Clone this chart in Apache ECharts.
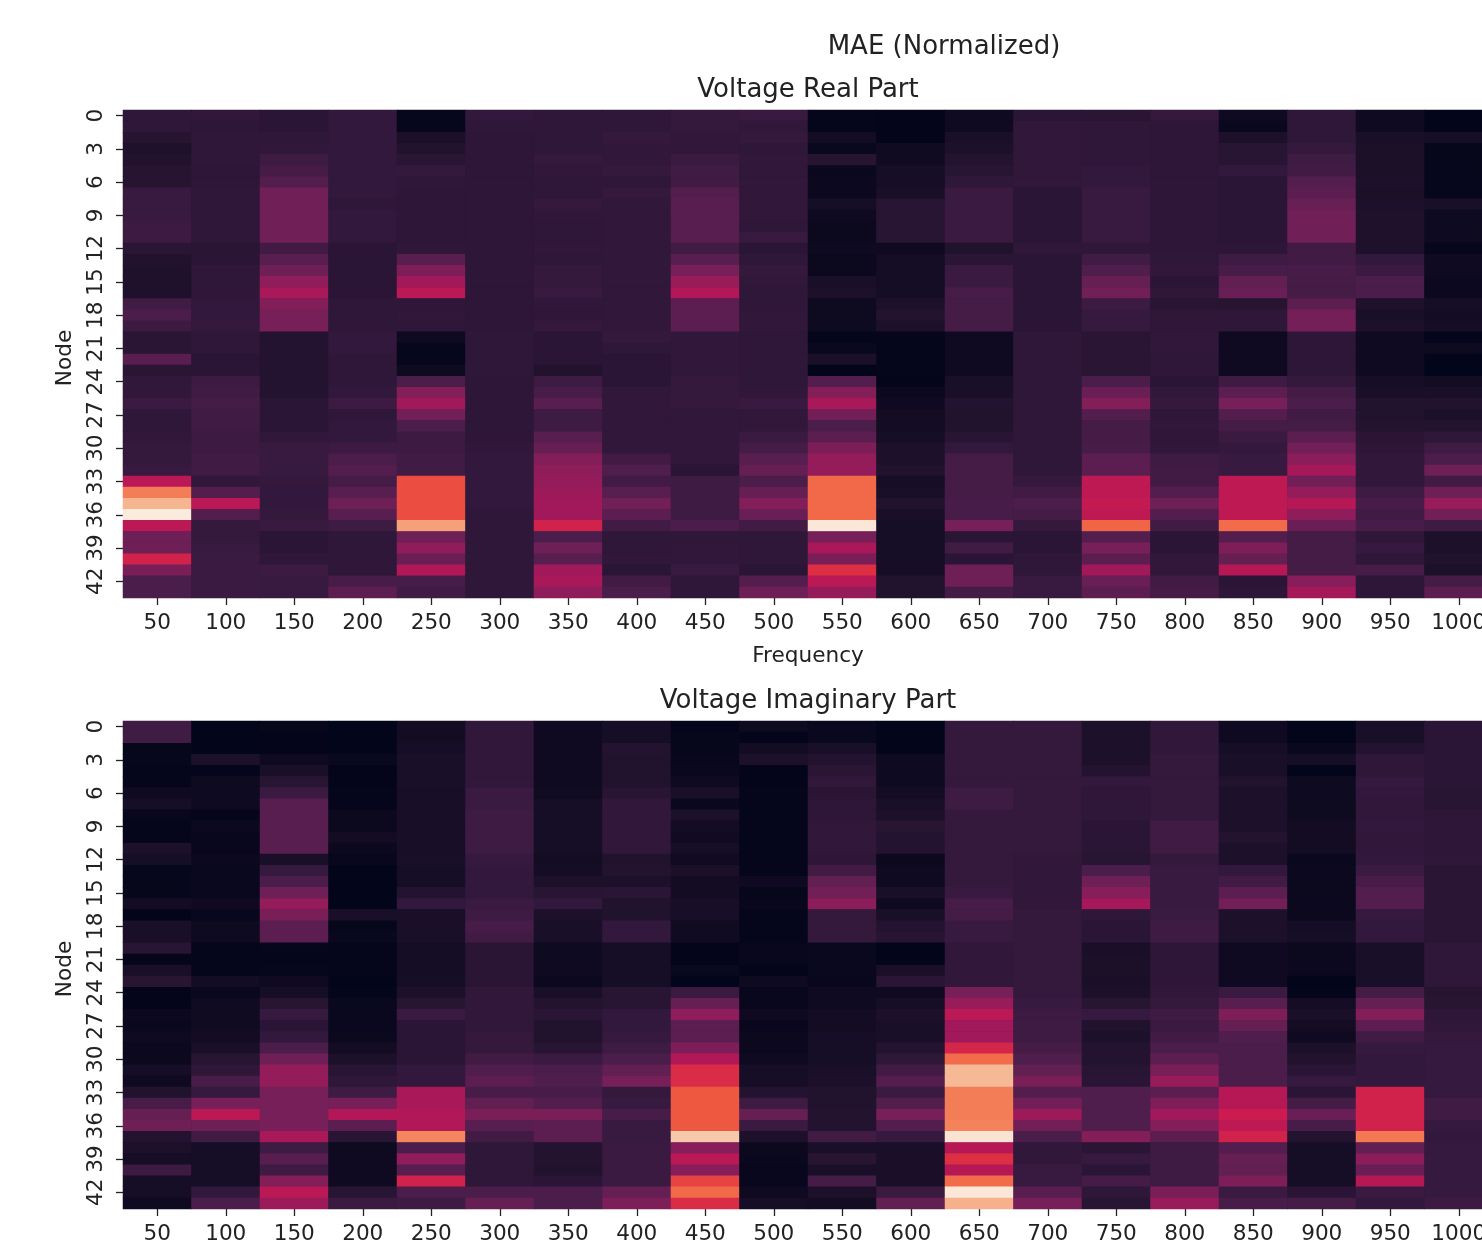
<!DOCTYPE html>
<html>
<head>
<meta charset="utf-8">
<style>html,body{margin:0;padding:0;background:#fff;overflow:hidden}#c{width:1482px;height:1248px}</style>
<script src="https://cdn.jsdelivr.net/npm/echarts@6/dist/echarts.min.js"></script>
</head>
<body>
<div id="c"></div>
<script>
const frequencies = [50,100,150,200,250,300,350,400,450,500,550,600,650,700,750,800,850,900,950,1000];
const nodes = Array.from({length:44},(_,i)=>String(i));

// Voltage Real Part: one array per frequency, 44 nodes each
const real50 = [.125,.125,.10,.08,.09,.10,.10,.15,.15,.15, .16,.16,.11,.09,.08,.08,.08,.17,.20,.16, .11,.11,.23,.11,.13,.13,.155,.125,.125,.13, .14,.14,.15,.46,.73,.86,1.0,.46,.28,.28,.52,.31,.20,.20];
const real100 = [.13,.12,.125,.125,.125,.12,.12,.125,.125,.125, .125,.125,.11,.115,.125,.125,.125,.135,.135,.14, .125,.125,.115,.115,.16,.17,.18,.17,.17,.16, .16,.17,.17,.13,.22,.46,.22,.14,.14,.15,.155,.155,.155,.155];
const real150 = [.115,.115,.125,.13,.165,.185,.22,.285,.285,.285, .285,.285,.175,.23,.28,.36,.42,.33,.30,.30, .095,.095,.095,.095,.095,.095,.115,.115,.115,.13, .15,.15,.15,.14,.135,.135,.14,.15,.115,.115,.125,.16,.15,.15];
const real200 = [.135,.135,.135,.135,.135,.135,.135,.135,.125,.135, .135,.135,.115,.115,.115,.115,.115,.125,.125,.125, .135,.135,.125,.125,.125,.135,.16,.125,.135,.135, .16,.20,.22,.18,.23,.28,.23,.165,.125,.125,.125,.125,.19,.24];
const real250 = [.01,.01,.07,.085,.11,.14,.125,.12,.12,.12, .12,.12,.125,.23,.32,.40,.46,.125,.13,.125, .03,.01,.01,.03,.20,.33,.40,.29,.20,.16, .16,.17,.17,.62,.62,.62,.62,.81,.28,.36,.27,.44,.19,.17];
const real300 = [.135,.125,.12,.12,.12,.12,.12,.12,.12,.12, .12,.12,.12,.12,.12,.12,.12,.12,.12,.12, .125,.125,.125,.125,.12,.12,.12,.12,.12,.12, .13,.135,.135,.135,.135,.135,.125,.125,.125,.125,.125,.125,.125,.125];
const real350 = [.125,.125,.125,.125,.14,.13,.125,.125,.14,.13, .125,.125,.13,.125,.14,.14,.15,.13,.125,.14, .115,.115,.115,.09,.165,.19,.23,.165,.165,.23, .26,.33,.36,.37,.39,.40,.40,.52,.20,.28,.23,.40,.42,.36];
const real400 = [.125,.125,.14,.13,.13,.14,.125,.14,.13,.13, .13,.13,.13,.13,.13,.13,.13,.13,.13,.13, .14,.125,.115,.115,.115,.13,.13,.13,.13,.13, .13,.175,.21,.175,.23,.29,.24,.175,.125,.125,.13,.115,.175,.20];
const real450 = [.14,.14,.13,.13,.155,.17,.17,.22,.23,.23, .23,.23,.17,.23,.30,.38,.44,.24,.24,.24, .13,.13,.13,.13,.14,.14,.14,.13,.13,.13, .13,.13,.115,.165,.165,.165,.165,.20,.125,.13,.13,.15,.125,.125];
const real500 = [.15,.13,.14,.125,.13,.13,.13,.13,.13,.13, .125,.15,.115,.125,.14,.13,.125,.125,.13,.13, .125,.125,.125,.125,.125,.13,.15,.13,.13,.155, .18,.23,.26,.20,.26,.33,.27,.175,.125,.125,.125,.115,.22,.28];
const real550 = [.005,.005,.045,.02,.10,.02,.025,.025,.055,.035, .025,.025,.03,.025,.025,.065,.075,.03,.03,.03, .005,.02,.07,0,.22,.33,.42,.29,.20,.24, .32,.37,.37,.68,.68,.68,.68,.99,.30,.42,.31,.56,.46,.37];
const real600 = [.002,.002,.002,.04,.04,.055,.055,.065,.105,.105, .105,.105,.035,.05,.05,.05,.05,.075,.095,.075, .005,.005,.005,.005,.002,.025,.035,.045,.045,.055, .075,.075,.085,.055,.065,.085,.065,.055,.055,.055,.055,.055,.085,.085];
const real650 = [.035,.035,.065,.075,.095,.105,.125,.155,.155,.155, .155,.155,.085,.115,.155,.155,.19,.18,.18,.18, .035,.035,.035,.035,.065,.065,.095,.085,.085,.105, .135,.18,.18,.18,.18,.19,.19,.30,.11,.17,.115,.28,.28,.18];
const real700 = [.115,.13,.13,.13,.13,.13,.13,.115,.115,.115, .115,.115,.125,.115,.115,.115,.115,.115,.115,.115, .125,.125,.125,.125,.125,.125,.125,.125,.125,.125, .125,.125,.125,.14,.175,.20,.18,.14,.115,.115,.125,.125,.15,.15];
const real750 = [.11,.125,.125,.125,.125,.135,.135,.15,.15,.15, .15,.15,.125,.17,.21,.26,.29,.16,.145,.145, .11,.11,.11,.11,.20,.27,.33,.22,.18,.18, .19,.24,.24,.47,.47,.48,.47,.67,.22,.30,.24,.40,.27,.24];
const real800 = [.14,.12,.12,.12,.12,.12,.12,.12,.12,.12, .12,.12,.12,.125,.13,.115,.125,.105,.125,.125, .13,.13,.125,.125,.115,.13,.14,.125,.13,.125, .13,.165,.175,.175,.22,.28,.22,.175,.115,.115,.13,.13,.175,.185];
const real850 = [.035,.02,.075,.105,.105,.135,.115,.115,.115,.115, .115,.115,.12,.165,.19,.25,.27,.10,.125,.125, .035,.035,.035,.035,.165,.24,.30,.22,.18,.155, .14,.15,.15,.47,.47,.47,.47,.69,.22,.32,.26,.45,.115,.12];
const real900 = [.125,.125,.125,.14,.165,.175,.22,.24,.265,.285, .285,.285,.175,.175,.19,.18,.18,.24,.295,.295, .12,.12,.12,.12,.14,.18,.20,.175,.18,.24, .29,.35,.41,.29,.37,.45,.36,.27,.18,.18,.18,.18,.34,.41];
const real950 = [.035,.035,.065,.07,.07,.07,.075,.07,.075,.08, .08,.08,.08,.135,.155,.20,.20,.08,.065,.075, .035,.035,.035,.035,.055,.065,.085,.085,.095,.11, .12,.13,.13,.13,.165,.19,.175,.19,.125,.145,.125,.19,.12,.12];
const real1000 = [0,0,.055,.01,.01,.01,.01,.01,.065,.03, .03,.03,.01,.035,.035,.025,.025,.055,.045,.055, .005,.03,0,0,.045,.065,.085,.075,.095,.125, .165,.20,.28,.175,.28,.38,.29,.165,.075,.075,.085,.075,.18,.24];

// Voltage Imaginary Part
const imag50 = [.17,.17,.01,.01,.005,.005,.035,.055,.015,.005, .005,.075,.055,.01,.01,.01,.045,0,.065,.065, .105,.005,.065,.105,.002,.003,.025,.02,.035,.025, .025,.055,.035,.085,.19,.26,.28,.095,.075,.055,.16,.055,.055,.03];
const imag100 = [.001,.001,.001,.075,.005,.03,.03,.035,.005,.025, .015,.015,.025,.02,.02,.02,.035,.015,.03,.03, .005,.005,.005,.045,.02,.04,.04,.04,.045,.065, .105,.125,.19,.145,.30,.46,.28,.17,.055,.055,.055,.055,.135,.20];
const imag150 = [.01,.002,.002,.035,.065,.105,.155,.23,.23,.23, .23,.23,.065,.145,.20,.28,.37,.31,.24,.24, .01,.005,.01,.035,.055,.105,.145,.115,.135,.20, .28,.37,.37,.30,.30,.30,.30,.42,.165,.23,.165,.33,.46,.39];
const imag200 = [.001,.001,.001,.02,.002,.002,.005,.005,.025,.025, .045,.025,.015,.001,.001,.001,.001,.065,.01,.02, .005,.005,.005,.001,.005,.02,.02,.02,.025,.045, .075,.105,.125,.165,.30,.44,.24,.105,.03,.035,.035,.035,.105,.155];
const imag250 = [.045,.045,.055,.065,.065,.065,.06,.06,.06,.06, .06,.06,.065,.055,.055,.095,.135,.065,.065,.065, .05,.05,.05,.055,.075,.105,.155,.115,.115,.115, .115,.135,.135,.42,.42,.44,.44,.75,.20,.36,.23,.52,.20,.165];
const imag300 = [.13,.13,.13,.13,.13,.13,.155,.155,.165,.165, .165,.165,.145,.135,.135,.135,.155,.165,.19,.175, .11,.11,.11,.11,.13,.13,.13,.13,.14,.14, .175,.21,.24,.19,.25,.31,.23,.175,.125,.125,.125,.125,.20,.26];
const imag350 = [.035,.035,.035,.035,.035,.035,.04,.055,.055,.055, .055,.055,.045,.05,.075,.105,.135,.075,.065,.065, .03,.03,.035,.025,.065,.095,.115,.085,.085,.105, .155,.20,.21,.19,.22,.31,.24,.24,.095,.095,.085,.115,.20,.20];
const imag400 = [.055,.055,.095,.085,.085,.085,.105,.13,.13,.13, .13,.13,.085,.095,.075,.115,.085,.085,.135,.135, .055,.055,.055,.055,.105,.105,.135,.135,.145,.165, .20,.25,.30,.14,.15,.19,.15,.15,.155,.155,.155,.155,.26,.32];
const imag450 = [.002,.01,.01,.015,.02,.035,.065,.02,.075,.045, .04,.055,.04,.07,.045,.045,.06,.06,.04,.04, .002,.002,.02,0,.155,.26,.36,.24,.24,.32, .44,.55,.55,.64,.64,.64,.64,.91,.34,.46,.34,.60,.68,.55];
const imag500 = [.03,.003,.045,.075,.003,.003,.005,.005,.005,.005, .005,.005,.005,.005,.035,.01,.015,.005,.005,.005, .015,.015,.002,.03,.015,.015,.035,.015,.025,.025, .035,.055,.055,.095,.165,.26,.155,.075,.025,.02,.015,.015,.035,.055];
const imag550 = [.02,.02,.065,.095,.11,.13,.11,.12,.12,.13, .13,.13,.12,.175,.25,.29,.35,.14,.14,.14, .02,.02,.02,.015,.035,.035,.045,.045,.055,.055, .055,.065,.075,.085,.085,.095,.095,.175,.065,.105,.065,.18,.075,.045];
const imag600 = [.001,.001,.001,.03,.03,.03,.045,.065,.075,.105, .095,.095,.025,.035,.035,.065,.035,.065,.095,.105, .001,.001,.065,.115,.035,.055,.075,.065,.065,.095, .125,.175,.22,.155,.22,.30,.22,.145,.065,.065,.065,.065,.155,.25];
const imag650 = [.14,.14,.14,.14,.14,.14,.165,.165,.14,.14, .14,.14,.14,.14,.14,.15,.19,.18,.15,.15, .13,.13,.13,.13,.30,.38,.46,.40,.40,.53, .69,.87,.87,.73,.73,.73,.74,.98,.45,.56,.45,.69,.99,.85];
const imag700 = [.14,.14,.14,.14,.14,.14,.14,.14,.14,.14, .14,.14,.13,.13,.13,.13,.13,.14,.14,.14, .14,.14,.14,.14,.14,.15,.16,.165,.165,.185, .21,.25,.31,.22,.29,.39,.29,.20,.13,.13,.15,.15,.23,.30];
const imag750 = [.075,.075,.075,.075,.095,.135,.125,.125,.125,.115, .115,.115,.105,.20,.28,.34,.41,.125,.115,.115, .065,.07,.07,.065,.075,.105,.145,.085,.075,.095, .095,.105,.115,.21,.21,.21,.21,.33,.115,.145,.115,.18,.125,.105];
const imag800 = [.13,.13,.13,.14,.14,.14,.14,.14,.14,.17, .17,.17,.14,.15,.15,.15,.15,.155,.165,.165, .12,.12,.12,.12,.13,.14,.165,.155,.175,.20, .24,.31,.38,.24,.32,.40,.33,.24,.165,.165,.165,.165,.31,.38];
const imag850 = [.035,.035,.055,.065,.065,.085,.075,.075,.075,.075, .095,.075,.075,.135,.175,.24,.29,.075,.075,.075, .035,.035,.035,.035,.155,.23,.32,.26,.21,.20, .20,.20,.20,.45,.45,.50,.47,.52,.22,.26,.25,.32,.155,.19];
const imag900 = [.001,.001,.02,.055,.001,.03,.03,.03,.03,.045, .045,.045,.02,.025,.025,.025,.025,.025,.05,.055, .025,.025,.025,0,.005,.05,.065,.045,.035,.075, .09,.115,.145,.115,.18,.27,.19,.095,.055,.055,.055,.055,.115,.18];
const imag950 = [.065,.065,.095,.125,.125,.145,.135,.13,.13,.135, .13,.13,.135,.155,.19,.22,.22,.145,.135,.135, .065,.065,.065,.065,.18,.26,.33,.24,.175,.145, .135,.135,.135,.52,.52,.52,.52,.72,.25,.35,.27,.45,.155,.135];
const imag1000 = [.115,.115,.115,.115,.115,.115,.105,.105,.12,.12, .12,.12,.125,.11,.11,.11,.11,.11,.11,.11, .125,.125,.125,.125,.10,.105,.12,.13,.14,.145, .145,.145,.145,.145,.17,.17,.145,.135,.145,.145,.145,.145,.145,.16];

const realColumns = [real50,real100,real150,real200,real250,real300,real350,real400,real450,real500,real550,real600,real650,real700,real750,real800,real850,real900,real950,real1000];
const imagColumns = [imag50,imag100,imag150,imag200,imag250,imag300,imag350,imag400,imag450,imag500,imag550,imag600,imag650,imag700,imag750,imag800,imag850,imag900,imag950,imag1000];

const rocket = ['#03051A','#1c1029','#35193e','#511e4d','#701f57','#8e1d5b','#ad1759','#cb1b4f','#e13342','#ef5a41','#f37651','#f5966d','#f6b48f','#f7d0b5','#FAEBDD'];
const FONT = '"DejaVu Sans", sans-serif';
const INK = '#222222';
const cells = cols => cols.flatMap((c,x)=>c.map((v,y)=>[x,y,v]));

function xAxis(gridIndex, name){
  return {type:'category',gridIndex,data:frequencies.map(String),name,nameLocation:'middle',nameGap:47,
    nameTextStyle:{fontFamily:FONT,fontSize:21.6,color:INK},
    axisLine:{show:false},axisTick:{show:true,alignWithLabel:true,length:7,lineStyle:{color:INK,width:1.3}},
    axisLabel:{interval:0,fontFamily:FONT,fontSize:21.6,color:INK,margin:14},splitLine:{show:false}};
}
function yAxis(gridIndex){
  return {type:'category',gridIndex,inverse:true,data:nodes,name:'Node',nameLocation:'middle',nameGap:47,nameRotate:90,
    nameTextStyle:{fontFamily:FONT,fontSize:21.6,color:INK,padding:[0,8,0,0]},
    axisLine:{show:false},axisTick:{show:true,alignWithLabel:true,interval:2,length:7,lineStyle:{color:INK,width:1.3}},
    axisLabel:{interval:2,rotate:90,fontFamily:FONT,fontSize:21.6,color:INK,margin:16},splitLine:{show:false}};
}
const chart = echarts.init(document.getElementById('c'),null,{renderer:'canvas'});
chart.setOption({
  animation:false,backgroundColor:'#fff',
  title:[
    {text:'MAE (Normalized)',left:944,top:34,padding:0,textAlign:'center',textStyle:{fontFamily:FONT,fontSize:26,fontWeight:'normal',color:INK}},
    {text:'Voltage Real Part',left:808,top:77,padding:0,textAlign:'center',textStyle:{fontFamily:FONT,fontSize:26,fontWeight:'normal',color:INK}},
    {text:'Voltage Imaginary Part',left:808,top:688,padding:0,textAlign:'center',textStyle:{fontFamily:FONT,fontSize:26,fontWeight:'normal',color:INK}}
  ],
  grid:[
    {left:123,top:110,width:1370,height:488,outerBoundsMode:'none',show:true,backgroundColor:'#2a1636',borderWidth:0},
    {left:123,top:721,width:1370,height:488,outerBoundsMode:'none',show:true,backgroundColor:'#2a1636',borderWidth:0}
  ],
  xAxis:[xAxis(0,'Frequency'),xAxis(1,'')],
  yAxis:[yAxis(0),yAxis(1)],
  visualMap:{show:false,min:0,max:1,seriesIndex:[0,1],inRange:{color:rocket}},
  series:[
    {type:'heatmap',xAxisIndex:0,yAxisIndex:0,data:cells(realColumns),progressive:0},
    {type:'heatmap',xAxisIndex:1,yAxisIndex:1,data:cells(imagColumns),progressive:0}
  ]
});
</script>
</body>
</html>
